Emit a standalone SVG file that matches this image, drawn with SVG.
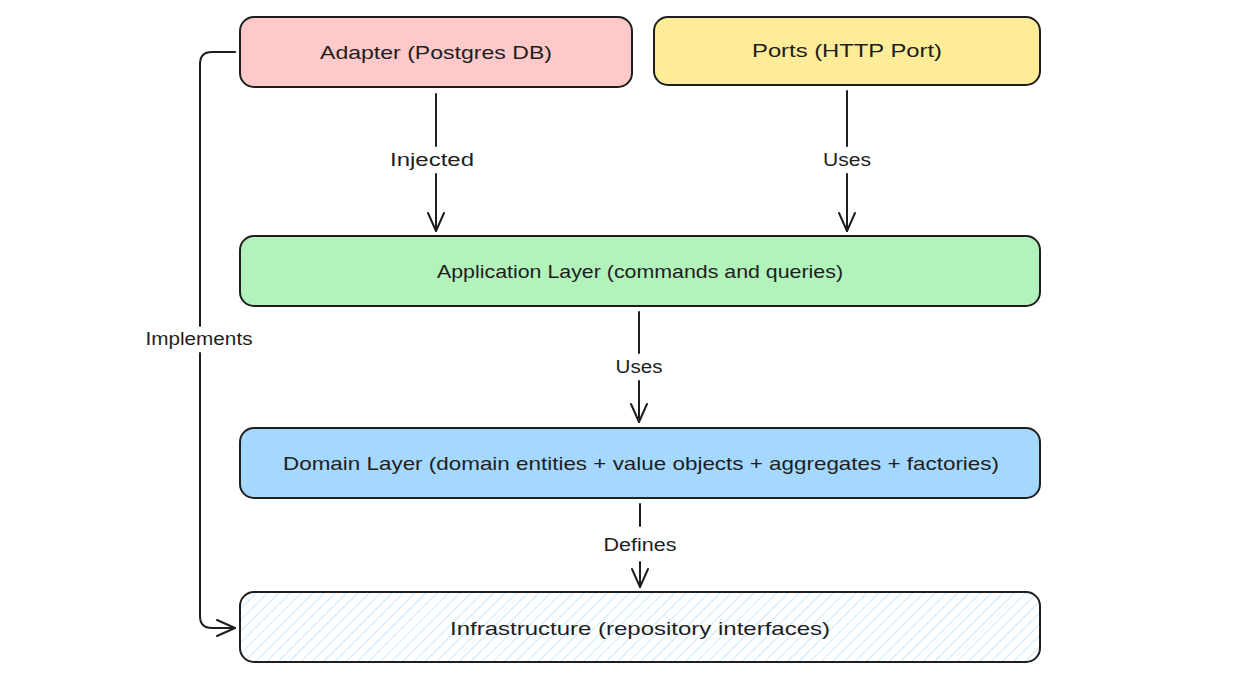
<svg xmlns="http://www.w3.org/2000/svg" width="1235" height="688" viewBox="0 0 1235 688">
<defs>
<pattern id="hach" patternUnits="userSpaceOnUse" width="8" height="8" patternTransform="rotate(45)">
<line x1="0" y1="0" x2="0" y2="8" stroke="#a5d8ff" stroke-width="1.2"/>
</pattern>
<marker id="arr" markerWidth="24" markerHeight="24" refX="20" refY="12" orient="auto" markerUnits="userSpaceOnUse">
<path d="M2,4 L20,12 L2,20" fill="none" stroke="#1e1e1e" stroke-width="2" stroke-linecap="round" stroke-linejoin="round"/>
</marker>
</defs>
<style>
.box{stroke:#1e1e1e;stroke-width:2}
.t{font-family:"Liberation Sans",Arial,sans-serif;font-size:19px;fill:#1e1e1e;text-anchor:middle;dominant-baseline:central}
.l{font-family:"Liberation Sans",Arial,sans-serif;font-size:18px;fill:#1e1e1e;text-anchor:middle;dominant-baseline:central}
.c{fill:none;stroke:#1e1e1e;stroke-width:2;stroke-linecap:round;stroke-linejoin:round}
</style>
<rect width="1235" height="688" fill="#ffffff"/>
<g id="adapter">
<rect class="box" x="240" y="17" width="392" height="70" rx="14" fill="#ffc9c9"/>
<text class="t" x="436" y="52" textLength="232" lengthAdjust="spacingAndGlyphs">Adapter (Postgres DB)</text>
</g>
<g id="ports">
<rect class="box" x="654" y="17" width="386" height="68" rx="14" fill="#ffec99"/>
<text class="t" x="847" y="50" textLength="190" lengthAdjust="spacingAndGlyphs">Ports (HTTP Port)</text>
</g>
<g id="application">
<rect class="box" x="240" y="236" width="800" height="70" rx="14" fill="#b2f2bb"/>
<text class="t" x="640" y="271" textLength="406" lengthAdjust="spacingAndGlyphs">Application Layer (commands and queries)</text>
</g>
<g id="domain">
<rect class="box" x="240" y="428" width="800" height="70" rx="14" fill="#a5d8ff"/>
<text class="t" x="641" y="463" textLength="716" lengthAdjust="spacingAndGlyphs">Domain Layer (domain entities + value objects + aggregates + factories)</text>
</g>
<g id="infrastructure">
<rect x="240" y="592" width="800" height="70" rx="14" fill="#ffffff"/>
<rect class="box" x="240" y="592" width="800" height="70" rx="14" fill="url(#hach)"/>
<text class="t" x="640" y="628" textLength="380" lengthAdjust="spacingAndGlyphs">Infrastructure (repository interfaces)</text>
</g>
<g id="connectors">
<path class="c" d="M436,94 L436,146"/>
<path class="c" d="M436,174 L436,231" marker-end="url(#arr)"/>
<text class="l" x="432" y="160" textLength="84" lengthAdjust="spacingAndGlyphs">Injected</text>
<path class="c" d="M847,91 L847,146"/>
<path class="c" d="M847,174 L847,231" marker-end="url(#arr)"/>
<text class="l" x="847" y="160" textLength="48" lengthAdjust="spacingAndGlyphs">Uses</text>
<path class="c" d="M639,312 L639,353"/>
<path class="c" d="M639,381 L639,422" marker-end="url(#arr)"/>
<text class="l" x="639" y="367" textLength="47" lengthAdjust="spacingAndGlyphs">Uses</text>
<path class="c" d="M640,504 L640,526"/>
<path class="c" d="M640,562 L640,587" marker-end="url(#arr)"/>
<text class="l" x="640" y="545" textLength="73" lengthAdjust="spacingAndGlyphs">Defines</text>
<path class="c" d="M235,52 L212,52 Q200,52 200,64 L200,326"/>
<path class="c" d="M200,353 L200,616 Q200,628 212,628 L235,628" marker-end="url(#arr)"/>
<text class="l" x="199" y="339" textLength="107" lengthAdjust="spacingAndGlyphs">Implements</text>
</g>
</svg>
